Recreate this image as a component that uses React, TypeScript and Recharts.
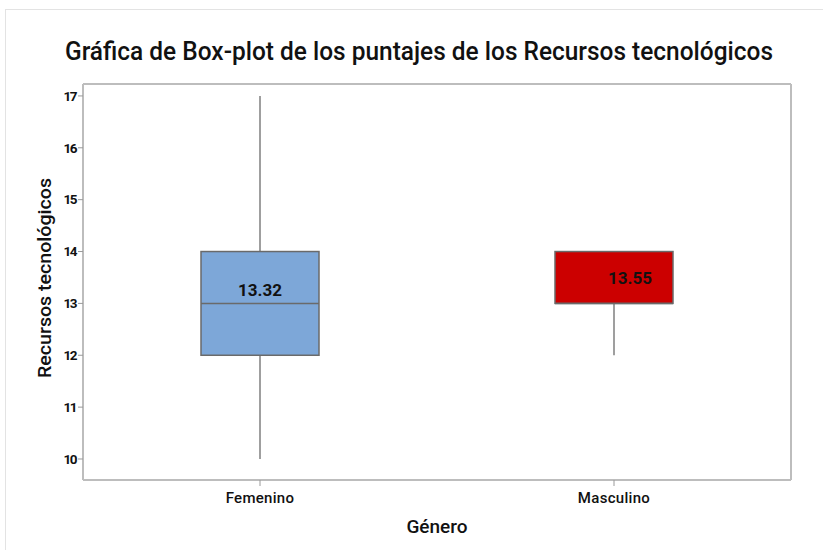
import React from 'react';
import { ComposedChart, Bar, XAxis, YAxis, CartesianGrid } from 'recharts';

const categories = ['Femenino', 'Masculino'];
const mins = [10, 12];
const q1s = [12, 13];
const medians = [13, 13];
const q3s = [14, 14];
const maxs = [17, 14];
const means = [13.32, 13.55];
const yTicks = [10, 11, 12, 13, 14, 15, 16, 17];
const fills = ['#7DA7D8', '#CC0000'];

const data = categories.map((c, i) => ({
  name: c,
  min: mins[i],
  q1: q1s[i],
  median: medians[i],
  q3: q3s[i],
  max: maxs[i],
  mean: means[i],
  range: [mins[i], maxs[i]],
  idx: i,
}));

const BoxShape = (props: any) => {
  const { x, y, width, height, payload } = props;
  const { min, max, q1, q3, median, mean, idx } = payload;
  const pix = (v: number) => y + ((max - v) / (max - min || 1)) * height;
  const cx = x + width / 2;
  const yQ1 = pix(q1);
  const yQ3 = pix(q3);
  const yMed = pix(median);
  const yMean = pix(mean);
  const labelDx = idx === 1 ? 16 : 0;
  return (
    <g>
      <line x1={cx} x2={cx} y1={pix(max)} y2={yQ3} stroke="#7f7f7f" strokeWidth={1.5} />
      <line x1={cx} x2={cx} y1={yQ1} y2={pix(min)} stroke="#7f7f7f" strokeWidth={1.5} />
      <rect x={x} y={yQ3} width={width} height={yQ1 - yQ3} fill={fills[idx]} stroke="#6a6a6a" strokeWidth={1.5} />
      <line x1={x} x2={x + width} y1={yMed} y2={yMed} stroke="#6a6a6a" strokeWidth={1.5} />
      <text x={cx + labelDx} y={yMean} dy="0.52em" textAnchor="middle" fontFamily="Roboto" fontWeight={700} fontSize={17} fill="#111">
        {mean.toFixed(2)}
      </text>
    </g>
  );
};

const XTick = (props: any) => {
  const { x, y, payload } = props;
  return (
    <text x={x} y={y} dy="0.85em" textAnchor="middle" fontFamily="Roboto" fontWeight={500} fontSize={15} fill="#111" letterSpacing={0.3}>
      {payload.value}
    </text>
  );
};

const YTick = (props: any) => {
  const { x, y, payload } = props;
  return (
    <text x={x} y={y} dy="0.35em" textAnchor="end" fontFamily="Roboto" fontWeight={700} fontSize={13.5} fill="#111" letterSpacing={-1.5}>
      {payload.value}
    </text>
  );
};

export default function App() {
  return (
    <div style={{ position: 'absolute', left: 0, top: 0, width: 823, height: 550, background: '#fff' }}>
      <div style={{ position: 'absolute', left: 5, top: 9, right: 0, bottom: 0, borderTop: '1px solid #e3e3e3', borderLeft: '1px solid #e3e3e3' }} />
      <svg width={823} height={550} style={{ position: 'absolute', left: 0, top: 0 }}>
        <text x={65} y={60} textLength={708} lengthAdjust="spacingAndGlyphs" fontFamily="Roboto" fontWeight={500} fontSize={25} fill="#111">
          Gráfica de Box-plot de los puntajes de los Recursos tecnológicos
        </text>
        <text x={0} y={0} transform="translate(51,278) rotate(-90)" textAnchor="middle" textLength={200} lengthAdjust="spacingAndGlyphs" fontFamily="Roboto" fontWeight={500} fontSize={18} fill="#111">
          Recursos tecnológicos
        </text>
        <text x={437} y={533} textAnchor="middle" fontFamily="Roboto" fontWeight={500} fontSize={19} fill="#111">
          Género
        </text>
      </svg>
      <div style={{ position: 'absolute', left: 0, top: 0 }}>
        <ComposedChart width={823} height={550} data={data} margin={{ top: 84, right: 32, bottom: 0, left: 0 }} barCategoryGap={0}>
          <CartesianGrid
            stroke="#bdbdbd"
            strokeWidth={2}
            horizontalCoordinatesGenerator={({ offset }: any) => [offset.top, offset.top + offset.height]}
            verticalCoordinatesGenerator={({ offset }: any) => [offset.left, offset.left + offset.width]}
          />
          <XAxis
            dataKey="name"
            height={70}
            axisLine={{ stroke: '#bdbdbd', strokeWidth: 2 }}
            tickLine={{ stroke: '#9a9a9a' }}
            tickSize={6}
            tick={<XTick />}
            tickMargin={4}
          />
          <YAxis
            width={83}
            domain={[9.595, 17.23]}
            ticks={yTicks}
            type="number"
            allowDataOverflow
            axisLine={{ stroke: '#bdbdbd', strokeWidth: 2 }}
            tickLine={{ stroke: '#9a9a9a' }}
            tickSize={5}
            tickMargin={2}
            tick={<YTick />}
          />
          <Bar dataKey="range" barSize={118} shape={<BoxShape />} isAnimationActive={false} />
        </ComposedChart>
      </div>
    </div>
  );
}
